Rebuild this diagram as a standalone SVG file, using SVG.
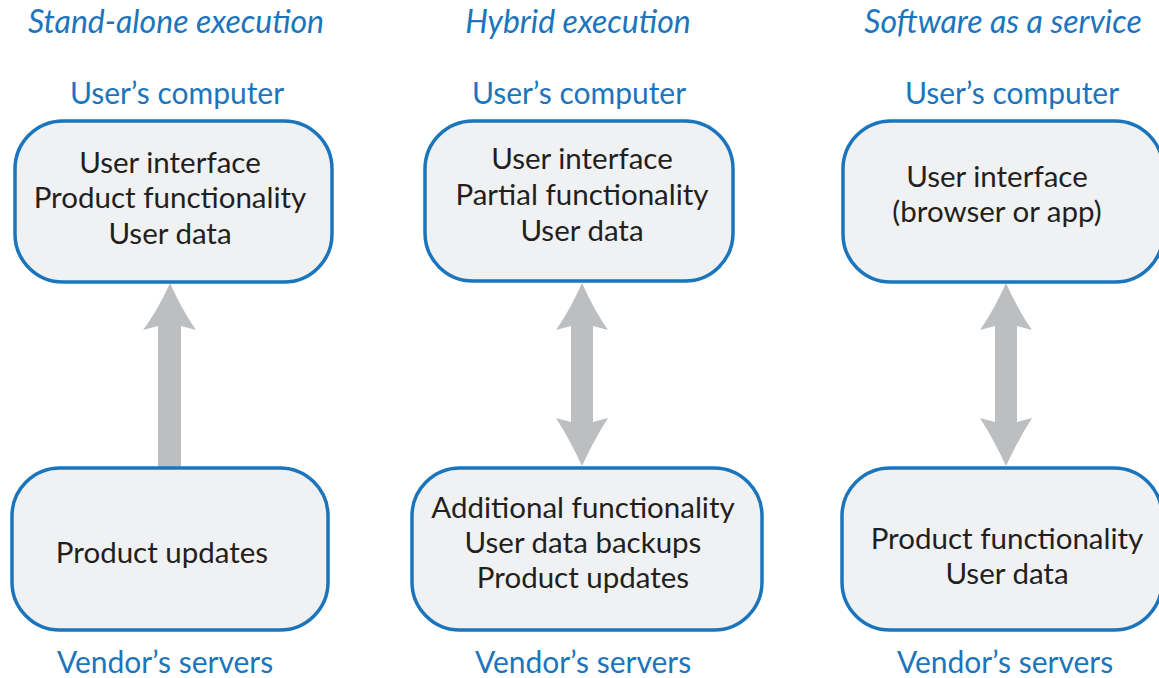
<svg xmlns="http://www.w3.org/2000/svg" width="1159" height="678" viewBox="0 0 1159 678">
  <style>
    .box { fill: #F0F1F3; stroke: #1B75BC; stroke-width: 3.5; }
    .txt { font-family: Lato, "Open Sans", sans-serif; font-size: 29.5px; fill: #231F20; text-anchor: middle; }
    .head { font-family: Lato, "Open Sans", sans-serif; font-size: 30px; fill: #1C75BC; text-anchor: middle; }
    .title { font-style: italic; font-size: 32px; }
    .arrow { fill: #BCBEC0; }
  </style>
  <rect width="1159" height="678" fill="#FFFFFF"/>

  <!-- column titles -->
  <g id="titles">
    <text class="head title" x="176" y="33">Stand-alone execution</text>
    <text class="head title" x="578" y="33">Hybrid execution</text>
    <text class="head title" x="1003" y="33">Software as a service</text>
    <text class="head" x="177" y="104">User’s computer</text>
    <text class="head" x="579" y="104">User’s computer</text>
    <text class="head" x="1012" y="104">User’s computer</text>
    <text class="head" x="165" y="673">Vendor’s servers</text>
    <text class="head" x="583" y="673">Vendor’s servers</text>
    <text class="head" x="1005" y="673">Vendor’s servers</text>
  </g>

  <!-- connectors -->
  <g id="connectors">
    <path class="arrow" d="M170,283 Q182,310 196,330 L181,326 L181,468 L158,468 L158,326 L143,330 Q158,310 170,283 Z"/>
    <path class="arrow" d="M582,283 Q594,310 608,330 L593,326 L593,422 L608,418 Q594,440 582,466 Q570,440 556,418 L571,422 L571,326 L556,330 Q570,310 582,283 Z"/>
    <path class="arrow" d="M1006,283 Q1018,310 1032,330 L1017,326 L1017,422 L1032,418 Q1018,440 1006,466 Q994,440 980,418 L995,422 L995,326 L980,330 Q994,310 1006,283 Z"/>
  </g>

  <g id="standalone-user">
    <rect class="box" x="15" y="121" width="317" height="161" rx="48"/>
    <text class="txt" x="170" y="173">User interface</text>
    <text class="txt" x="170" y="208">Product functionality</text>
    <text class="txt" x="170" y="244">User data</text>
  </g>
  <g id="standalone-vendor">
    <rect class="box" x="12" y="468" width="316" height="162" rx="48"/>
    <text class="txt" x="162" y="563">Product updates</text>
  </g>

  <g id="hybrid-user">
    <rect class="box" x="425" y="121" width="308" height="160" rx="48"/>
    <text class="txt" x="582" y="169">User interface</text>
    <text class="txt" x="582" y="205">Partial functionality</text>
    <text class="txt" x="582" y="241">User data</text>
  </g>
  <g id="hybrid-vendor">
    <rect class="box" x="412" y="468" width="350" height="162" rx="48"/>
    <text class="txt" x="583" y="518">Additional functionality</text>
    <text class="txt" x="583" y="553">User data backups</text>
    <text class="txt" x="583" y="588">Product updates</text>
  </g>

  <g id="saas-user">
    <rect class="box" x="843" y="121" width="320" height="161" rx="48"/>
    <text class="txt" x="997" y="187">User interface</text>
    <text class="txt" x="997" y="222">(browser or app)</text>
  </g>
  <g id="saas-vendor">
    <rect class="box" x="842" y="468" width="320" height="162" rx="48"/>
    <text class="txt" x="1007" y="549">Product functionality</text>
    <text class="txt" x="1007" y="584">User data</text>
  </g>
</svg>
